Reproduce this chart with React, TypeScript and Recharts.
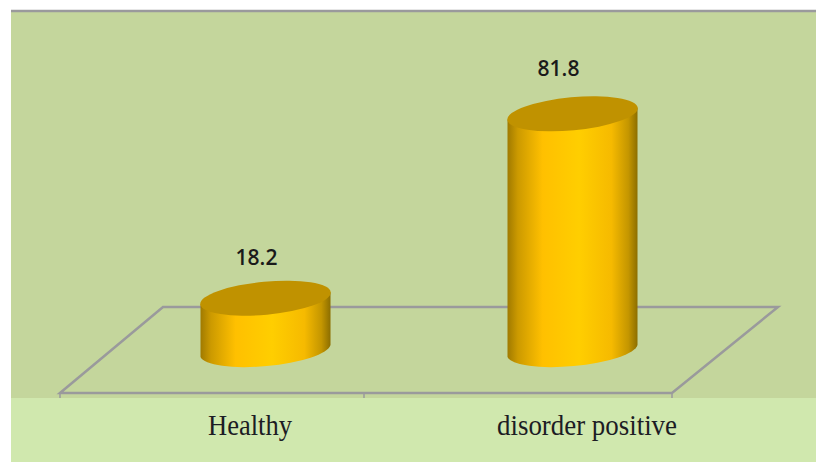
import { Bar, BarChart, Customized, LabelList, XAxis, YAxis } from 'recharts'

const categories = ['Healthy', 'disorder positive']
const values = [18.2, 81.8]

const chartData = categories.map((name, i) => ({ name, value: values[i] }))

// the picture's labels don't sit on the bar centres, so they get nudged
const tickNudge = [-15, 15]
const tickLength = [84, 180] // the source text is squeezed sideways
const labelNudge = [-9, -14]
const labelLift = [33, 38]

const GREY = '#9a9a9c'

// panel background + fake 3D floor, drawn behind the bars
function Backdrop() {
  return (
    <g>
      <rect x={11} y={11} width={805} height={387} fill="#c4d69c" />
      <rect x={11} y={398} width={805} height={64} fill="#d0e8ae" />
      <line x1={11} x2={816} y1={11} y2={11} stroke={GREY} strokeWidth={2.5} />
      <path d="M60 393 L163 307 L778 307 L672 393 Z" fill="none" stroke={GREY} strokeWidth={2.5} />
      {[60, 364, 672].map((x) => (
        <line key={x} x1={x} x2={x} y1={392} y2={398} stroke={GREY} strokeWidth={1.5} />
      ))}
    </g>
  )
}

function Cylinder(props: any) {
  const { x, y, width, height, index } = props
  const rx = width / 2 + 0.5
  const ry = 16.5
  const tilt = 6 // half the height difference between the two sides
  const rot = -5.3
  const right = x + width
  const base = y + height
  const id = `cyl-${index}`
  return (
    <g>
      <defs>
        <linearGradient id={id} x1="0" x2="1" y1="0" y2="0">
          <stop offset="0" stopColor="#a07a00" />
          <stop offset="0.08" stopColor="#cc9a00" />
          <stop offset="0.27" stopColor="#ffc000" />
          <stop offset="0.55" stopColor="#ffce00" />
          <stop offset="0.8" stopColor="#f6ba00" />
          <stop offset="0.93" stopColor="#c49600" />
          <stop offset="1" stopColor="#8c6e00" />
        </linearGradient>
      </defs>
      <path
        d={`M${x} ${y + tilt} L${x} ${base + tilt} A${rx} ${ry} ${rot} 0 0 ${right} ${base - tilt} L${right} ${y - tilt} Z`}
        fill={`url(#${id})`}
      />
      <ellipse
        cx={x + width / 2}
        cy={y}
        rx={rx}
        ry={ry}
        fill="#c09200"
        transform={`rotate(${rot} ${x + width / 2} ${y})`}
      />
    </g>
  )
}

function ValueLabel(props: any) {
  const { x, y, width, value, index } = props
  return (
    <text
      x={x + width / 2 + labelNudge[index]}
      y={y - labelLift[index]}
      textAnchor="middle"
      fontFamily="Open Sans"
      fontWeight={600}
      fontSize={21}
      fill="#1a1a1a"
    >
      {value}
    </text>
  )
}

function CategoryTick(props: any) {
  const { x, y, payload, index } = props
  return (
    <text
      x={x + tickNudge[index]}
      y={y + 76}
      textAnchor="middle"
      fontFamily="Liberation Serif"
      fontSize={29}
      textLength={tickLength[index]}
      lengthAdjust="spacingAndGlyphs"
      fill="#1c1c24"
    >
      {payload.value}
    </text>
  )
}

export default function App() {
  return (
    <div style={{ position: 'absolute', left: 0, top: 0, width: 816, height: 462 }}>
      <BarChart
        width={816}
        height={462}
        data={chartData}
        barSize={130}
        margin={{ top: 61, right: 90.5, bottom: 71, left: 111.5 }}
      >
        <Customized component={Backdrop} />
        <XAxis dataKey="name" height={40} axisLine={false} tickLine={false} tick={CategoryTick} interval={0} />
        <YAxis hide domain={[0, 100]} />
        <Bar dataKey="value" shape={Cylinder} isAnimationActive={false}>
          <LabelList dataKey="value" content={ValueLabel} />
        </Bar>
      </BarChart>
    </div>
  )
}
